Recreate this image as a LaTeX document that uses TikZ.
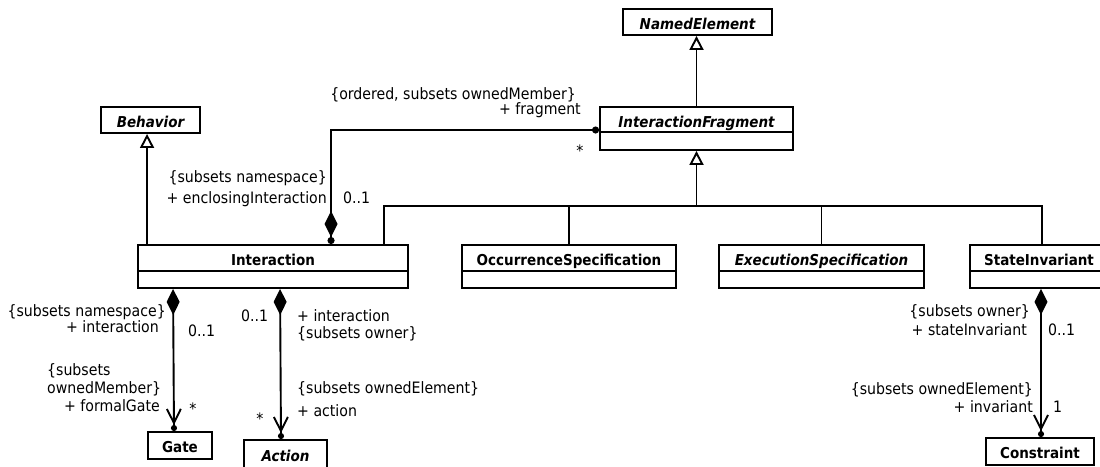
\documentclass[tikz,border=0pt]{standalone}
\usepackage{fontspec}
\setmainfont{DejaVu Sans Condensed}
\usetikzlibrary{arrows.meta}
\begin{document}
\begin{tikzpicture}[x=1pt,y=-1pt]
\tikzset{
 cls/.style={draw, line width=1.9pt, inner sep=0pt},
 ttl/.style={inner sep=0pt, text height=11pt, text depth=0pt, font=\fontsize{15}{18}\selectfont\bfseries},
 ttli/.style={inner sep=0pt, text height=11pt, text depth=0pt, font=\fontsize{15}{18}\selectfont\bfseries\itshape},
 lbl/.style={inner sep=0pt, text height=11pt, text depth=3pt, font=\fontsize{15.7}{18}\selectfont},
 conn/.style={line width=1.9pt},
 gen/.style={conn, -{Triangle[open,length=14pt,width=14pt]}},
 frag/.style={conn, {Circle[length=7pt,sep=0pt]Diamond[length=26pt,width=13pt,sep=0pt]}-{Circle[length=7pt]}},
 comp/.style={conn, {Diamond[length=26pt,width=13pt]}-{Straight Barb[length=14pt,width=14pt,sep=0pt]Circle[length=6pt]}},
}
\fill[white] (0,0) rectangle (1100,466);
\useasboundingbox (0,0) rectangle (1100,466);

% classes
\node[cls, minimum width=149pt, minimum height=26pt] (ne) at (697.5,22) {};
\node[ttli] (neT) at (697.5,23.5) {NamedElement};

\node[cls, minimum width=193pt, minimum height=43pt] (if) at (696.5,128.5) {};
\node[ttli] (ifT) at (696.5,121.5) {InteractionFragment};
\draw[line width=1.9pt] ([yshift=-26pt]if.north west) -- ([yshift=-26pt]if.north east);

\node[cls, minimum width=99pt, minimum height=26pt] (beh) at (150.5,120) {};
\node[ttli] (behT) at (150.5,121.5) {Behavior};

\node[cls, minimum width=270pt, minimum height=43pt] (inter) at (273,266.5) {};
\node[ttl] (interT) at (273,260) {Interaction};
\draw[line width=1.9pt] ([yshift=-27pt]inter.north west) -- ([yshift=-27pt]inter.north east);

\node[cls, minimum width=214pt, minimum height=43pt] (occ) at (569,266.5) {};
\node[ttl] (occT) at (569,260) {OccurrenceSpecification};
\draw[line width=1.9pt] ([yshift=-27pt]occ.north west) -- ([yshift=-27pt]occ.north east);

\node[cls, minimum width=205pt, minimum height=43pt] (exe) at (821.5,266.5) {};
\node[ttli] (exeT) at (821.5,260) {ExecutionSpecification};
\draw[line width=1.9pt] ([yshift=-27pt]exe.north west) -- ([yshift=-27pt]exe.north east);

\node[cls, minimum width=138pt, minimum height=43pt] (si) at (1039,266.5) {};
\node[ttl] (siT) at (1039,260) {StateInvariant};
\draw[line width=1.9pt] ([yshift=-27pt]si.north west) -- ([yshift=-27pt]si.north east);

\node[cls, minimum width=64pt, minimum height=27pt] (gate) at (180,445.5) {};
\node[ttl] (gateT) at (180,446.5) {Gate};

\node[cls, minimum width=83pt, minimum height=30pt] (act) at (285.5,455) {};
\node[ttli] (actT) at (285.5,456) {Action};

\node[cls, minimum width=108pt, minimum height=27pt] (con) at (1040,451.5) {};
\node[ttl] (conT) at (1040,453) {Constraint};

% generalizations
\draw[gen] (if.north) -- (if.north |- ne.south);
\coordinate (b0) at ([xshift=10pt]inter.north west);
\draw[gen] (b0) -- (b0 |- beh.south);
\coordinate (j) at ([yshift=-55pt]if.south);
\coordinate (b1) at ([xshift=247pt]inter.north west);
\coordinate (s1) at ([xshift=3pt]si.north);
\draw[gen] (j) -- (if.south);
\draw[conn] (b1) |- (j) -| (s1);
\draw[conn] (occ.north) -- (occ.north |- j);
\draw[conn] (exe.north) -- (exe.north |- j);

% fragment association
\coordinate (c1) at ([xshift=194pt]inter.north west);
\draw[frag] (c1) |- ([yshift=-1.5pt]if.west);

% compositions
\draw[comp] ([xshift=36pt]inter.south west) -- ([xshift=-6pt]gate.north);
\draw[comp] ([xshift=143pt]inter.south west) -- ([xshift=-4.5pt]act.north);
\draw[comp] ([xshift=2pt]si.south) -- ([xshift=1pt]con.north);

% labels
\node[lbl, anchor=east] (l1) at (576,95) {\{ordered, subsets ownedMember\}};
\node[lbl, anchor=east] (l2) at (581,110) {+ fragment};
\node[lbl] (l3) at (580,152) {*};
\node[lbl, anchor=east] (l4) at (327,178) {\{subsets namespace\}};
\node[lbl, anchor=east] (l5) at (327,199) {+ enclosingInteraction};
\node[lbl, anchor=west] (l6) at (343,199) {0..1};

\node[lbl, anchor=east] (l7) at (166,312) {\{subsets namespace\}};
\node[lbl, anchor=east] (l8) at (159,328) {+ interaction};
\node[lbl, anchor=west] (l9) at (188,332) {0..1};
\node[lbl, anchor=west] (l10) at (47,371) {\{subsets};
\node[lbl, anchor=west] (l11) at (47,389) {ownedMember\}};
\node[lbl, anchor=east] (l12) at (160,407) {+ formalGate};
\node[lbl] (l13) at (193,410) {*};

\node[lbl, anchor=west] (l14) at (241,317) {0..1};
\node[lbl, anchor=west] (l15) at (297,317) {+ interaction};
\node[lbl, anchor=west] (l16) at (297,334) {\{subsets owner\}};
\node[lbl, anchor=west] (l17) at (297,389) {\{subsets ownedElement\}};
\node[lbl, anchor=west] (l18) at (297,412) {+ action};
\node[lbl] (l19) at (260,420) {*};

\node[lbl, anchor=east] (l20) at (1030,312) {\{subsets owner\}};
\node[lbl, anchor=east] (l21) at (1027,331) {+ stateInvariant};
\node[lbl, anchor=west] (l22) at (1048,331) {0..1};
\node[lbl, anchor=east] (l23) at (1033,390) {\{subsets ownedElement\}};
\node[lbl, anchor=east] (l24) at (1033,408) {+ invariant};
\node[lbl, anchor=west] (l25) at (1053,408) {1};
\end{tikzpicture}
\end{document}
